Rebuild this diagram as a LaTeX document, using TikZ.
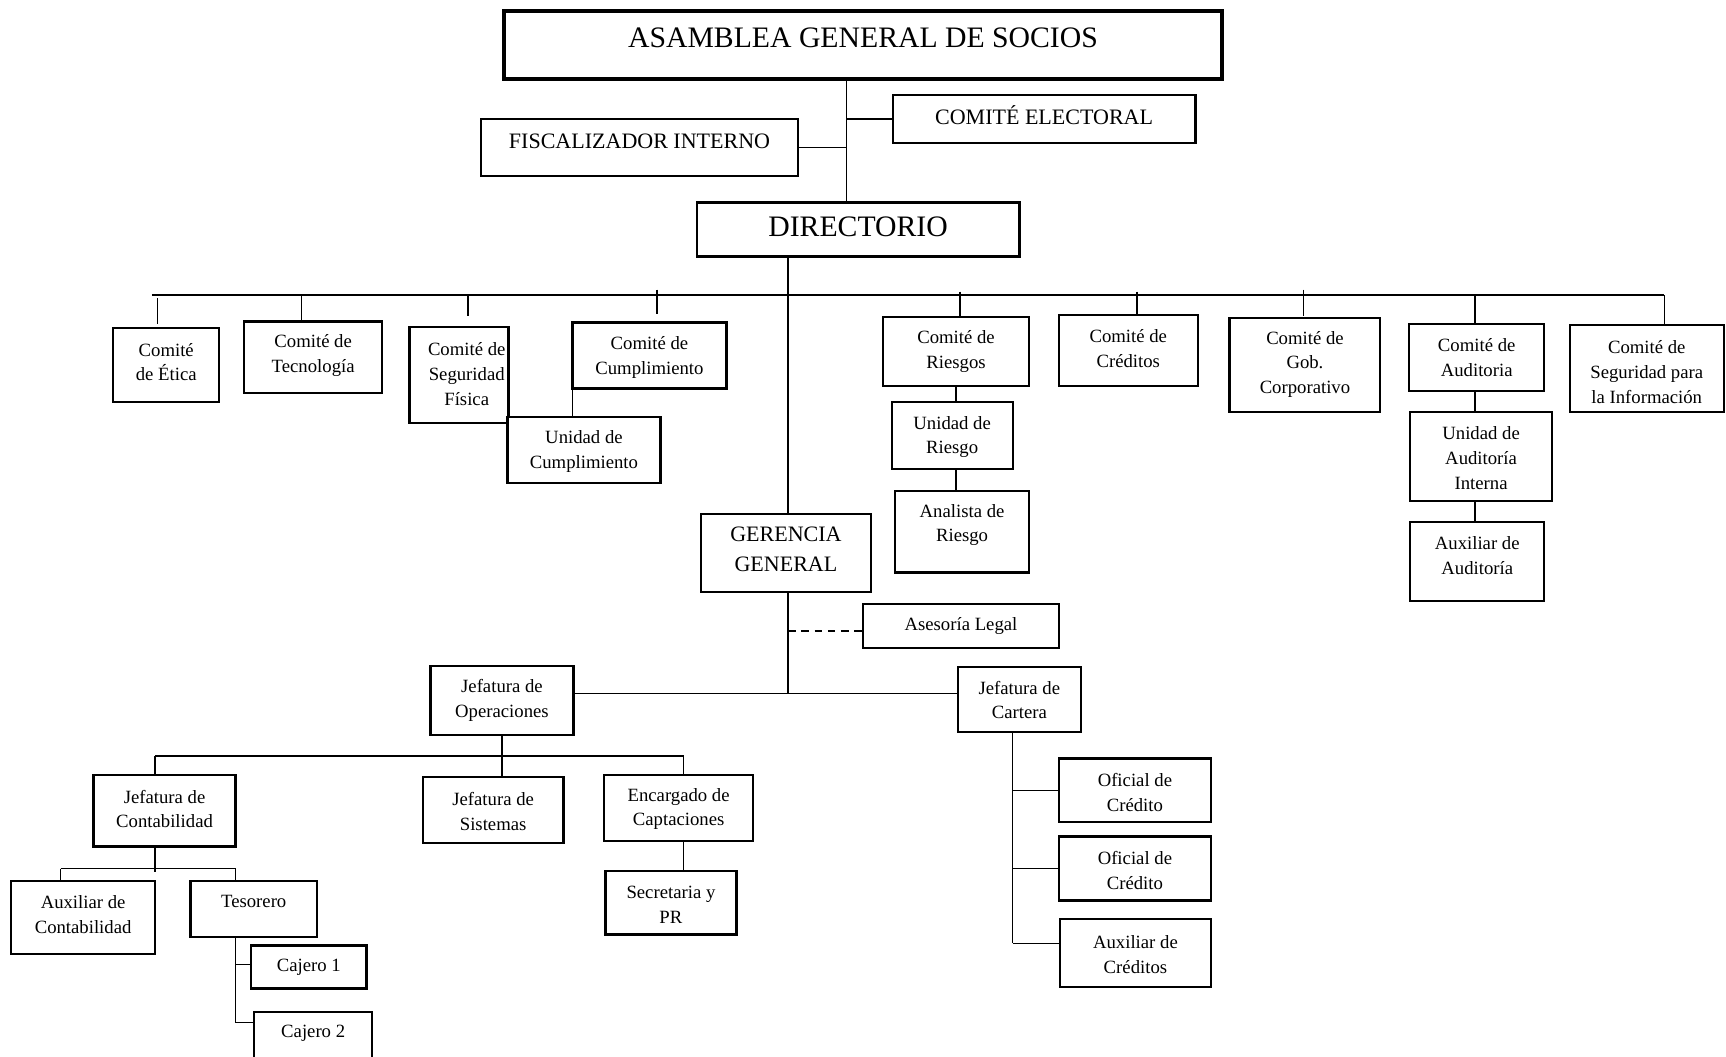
\documentclass[tikz,border=0pt]{standalone}
\usepackage{fontspec}
\setmainfont{Liberation Serif}
\tikzset{
  box/.style={draw, line width=2pt, fill=white, inner sep=0pt, outer sep=0pt, rectangle},
  txt/.style={inner sep=0pt, align=center, font=\fontsize{17}{22.5}\selectfont},
  conn/.style={line width=1.4pt},
}
\newcommand{\orgbox}[8][]{%
  \node[box,#1,minimum width={(#5-#3)*1pt},minimum height={(#6-#4)*1pt}] (#2) at ({(#3+#5)/2},{(#4+#6)/2}) {};
  \node[txt,#1] (#2-t) at ({(#3+#5)/2},#7) {#8};
}
\begin{document}
\begin{tikzpicture}[x=1pt,y=-1pt]
\useasboundingbox (0,0) rectangle (1568,960);
\fill[white] (0,0) rectangle (1568,960);

% top
\orgbox[line width=3.5pt,font=\fontsize{27}{30}\selectfont]{asam}{458}{10}{1110}{72}{34}{ASAMBLEA GENERAL DE SOCIOS}
\orgbox[font=\fontsize{20}{24}\selectfont]{elec}{811}{86}{1086}{130}{105}{COMITÉ ELECTORAL}
\orgbox[font=\fontsize{20}{24}\selectfont]{fisc}{437}{108}{725}{160}{128}{FISCALIZADOR INTERNO}
\orgbox[line width=2.2pt,font=\fontsize{27}{30}\selectfont]{dir}{633}{184}{926}{233}{206}{DIRECTORIO}

% committees
\orgbox{etica}{103}{298}{199}{365}{329}{Comité\\de Ética}
\orgbox{tec}{222}{292}{347}{357}{323}{Comité de\\Tecnología}
\node[box,minimum width=90pt,minimum height=87pt] (segf) at (417,340.5) {};
\node[txt] (segf-t) at (424,340) {Comité de\\Seguridad\\Física};
\orgbox{cump}{520}{293}{660}{353}{325}{Comité de\\Cumplimiento}
\orgbox{ucump}{461}{379}{600}{439}{410}{Unidad de\\Cumplimiento}
\orgbox{riesgo}{802}{288}{935}{351}{319}{Comité de\\Riesgos}
\orgbox{uriesgo}{810}{365}{920}{426}{397}{Unidad de\\Riesgo}
\orgbox{analista}{813}{446}{935}{520}{477}{Analista de\\Riesgo}
\orgbox{cred}{962}{286}{1088}{351}{317}{Comité de\\Créditos}
\orgbox{gob}{1117}{289}{1254}{374}{331}{Comité de\\Gob.\\Corporativo}
\orgbox{aud}{1280}{294}{1403}{355}{325}{Comité de\\Auditoria}
\orgbox{uaud}{1281}{374}{1410}{455}{416}{Unidad de\\Auditoría\\Interna}
\orgbox{auxaud}{1281}{474}{1403}{546}{505}{Auxiliar de\\Auditoría}
\orgbox{seginf}{1426}{295}{1566}{374}{338}{Comité de\\Seguridad para\\la Información}

% management
\orgbox[line width=2.2pt,font=\fontsize{20}{27}\selectfont]{ger}{637}{467}{791}{538}{499}{GERENCIA\\GENERAL}
\orgbox{legal}{784}{549}{962}{589}{569}{Asesoría Legal}
\orgbox{ope}{391}{605}{521}{668}{636}{Jefatura de\\Operaciones}
\orgbox{cart}{870}{606}{982}{665}{636}{Jefatura de\\Cartera}
\orgbox{cont}{85}{704}{214}{769}{735}{Jefatura de\\Contabilidad}
\orgbox{sist}{384}{706}{512}{766}{737}{Jefatura de\\Sistemas}
\orgbox{capt}{549}{704}{684}{764}{735}{Encargado de\\Captaciones}
\orgbox{secr}{550}{791}{669}{849}{822}{Secretaria y\\PR}
\orgbox{auxc}{10}{800}{141}{867}{831}{Auxiliar de\\Contabilidad}
\orgbox{tes}{173}{800}{288}{851}{819}{Tesorero}
\orgbox{caj1}{228}{859}{333}{898}{879}{Cajero 1}
\orgbox{caj2}{231}{919}{338}{963}{939}{Cajero 2}
\orgbox{ofi1}{962}{689}{1100}{747}{720}{Oficial de\\Crédito}
\orgbox{ofi2}{962}{760}{1100}{818}{791}{Oficial de\\Crédito}
\orgbox{auxcr}{963}{835}{1100}{897}{867}{Auxiliar de\\Créditos}

% coordinates
\coordinate (t1) at (769,0);
\coordinate (t2) at (716,0);
\coordinate (busL) at (138,268);
\coordinate (busR) at (1512,268);
\coordinate (gj) at (716,630);
\coordinate (obL) at (141,687);
\coordinate (obR) at (621,687);
\coordinate (cbL) at (55,789);
\coordinate (cbR) at (214,789);
\coordinate (ty1) at (0,876);
\coordinate (ty2) at (0,929);
\coordinate (ct) at (920,0);
\coordinate (dl) at ([yshift=-4pt]legal.west);
\coordinate (ab) at ([yshift=9pt]auxcr.west);

% top connectors
\draw[conn] (asam.south -| t1) -- (dir.north -| t1);
\draw[conn] (elec.west) -- (elec.west -| t1);
\draw[conn] (fisc.east) -- (fisc.east -| t1);

% bus and drops
\draw[conn] (busL) -- (busR);
\draw[conn] ([xshift=-8pt,yshift=27pt]etica.north) -- ([xshift=-8pt,yshift=4pt]etica.north);
\draw[conn] ([xshift=-10.5pt,yshift=24pt]tec.north) -- ([xshift=-10.5pt]tec.north);
\draw[conn] ([xshift=8pt,yshift=29pt]segf.north) -- ([xshift=8pt,yshift=10pt]segf.north);
\draw[conn] ([xshift=7pt,yshift=30pt]cump.north) -- ([xshift=7pt,yshift=8pt]cump.north);
\draw[conn] ([xshift=3.5pt,yshift=23pt]riesgo.north) -- ([xshift=3.5pt]riesgo.north);
\draw[conn] ([xshift=8pt,yshift=21pt]cred.north) -- ([xshift=8pt]cred.north);
\draw[conn] ([xshift=-1.5pt,yshift=26pt]gob.north) -- ([xshift=-1.5pt,yshift=2pt]gob.north);
\draw[conn] ([xshift=-1.5pt,yshift=26pt]aud.north) -- ([xshift=-1.5pt]aud.north);
\draw[conn] (busR) -- (busR |- seginf.north);

% sub-units of committees
\draw[conn] (cump.south west) -- (cump.south west |- ucump.north);
\draw[conn] (riesgo.south) -- (riesgo.south |- uriesgo.north);
\draw[conn] (riesgo.south |- uriesgo.south) -- (riesgo.south |- analista.north);
\draw[conn] ([xshift=-1.5pt]aud.south) -- ([xshift=-1.5pt]aud.south |- uaud.north);
\draw[conn] ([xshift=-1.5pt]aud.south |- uaud.south) -- ([xshift=-1.5pt]aud.south |- auxaud.north);

% directorio to gerencia
\draw[conn] (dir.south -| t2) -- (ger.north -| t2);
\draw[conn] (ger.south -| gj) -- (gj);
\draw[conn,dashed,dash pattern=on 7pt off 5pt] (dl -| gj) -- (dl);
\draw[conn] (ope.east |- gj) -- (cart.west |- gj);

% operaciones
\draw[conn] (ope.south) -- (ope.south |- sist.north);
\draw[conn] (obL) -- (obR);
\draw[conn] (obL) -- (obL |- cont.north);
\draw[conn] (obR) -- (obR |- capt.north);
\draw[conn] (obR |- capt.south) -- (obR |- secr.north);

% contabilidad
\draw[conn] (obL |- cont.south) -- ([yshift=-3pt]obL |- cbL);
\draw[conn] (cbL) -- (cbR);
\draw[conn] (cbL) -- (cbL |- auxc.north);
\draw[conn] (cbR) -- (cbR |- tes.north);
\draw[conn] (cbR |- tes.south) -- (cbR |- ty2);
\draw[conn] (cbR |- ty1) -- (caj1.west |- ty1);
\draw[conn] (cbR |- ty2) -- (caj2.west |- ty2);

% cartera
\draw[conn] (cart.south -| ct) -- (ct |- ab);
\draw[conn] (ct |- ofi1.west) -- (ofi1.west);
\draw[conn] (ct |- ofi2.west) -- (ofi2.west);
\draw[conn] (ct |- ab) -- (ab);
\end{tikzpicture}
\end{document}
